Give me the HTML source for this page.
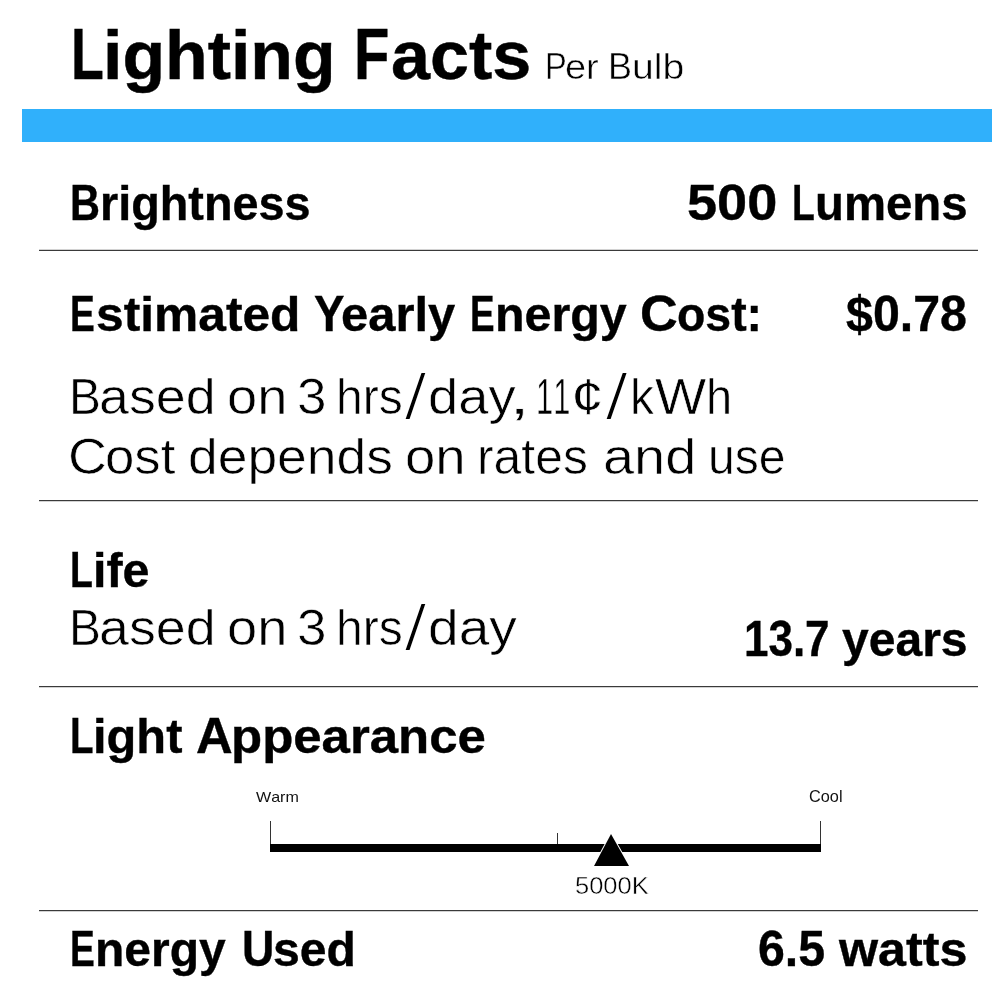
<!DOCTYPE html>
<html lang="en">
<head>
<meta charset="utf-8">
<title>Lighting Facts Per Bulb</title>
<style>
html,body{margin:0;padding:0;background:#fff;}
body{width:1000px;height:1000px;overflow:hidden;position:relative;font-family:"Liberation Sans",sans-serif;color:#000;}
#label{position:absolute;left:0;top:0;width:1000px;height:1000px;overflow:hidden;}
.w{position:absolute;white-space:nowrap;font-kerning:none;line-height:1;transform-origin:0 0;display:block;}
.t{font-weight:bold;color:#000;-webkit-text-stroke:0.5px #000;}
.b{font-weight:bold;color:#000;-webkit-text-stroke:0.4px #000;}
.pb{font-weight:normal;color:#000;-webkit-text-stroke:0.5px #fff;}
.l{font-weight:normal;color:#000;-webkit-text-stroke:0.6px #fff;}
.s{font-weight:normal;color:#111;}
.k{font-weight:normal;color:#000;-webkit-text-stroke:0.4px #fff;}
.lc{display:inline-block;transform-origin:0 0.905em;}
.t .lc,.b .lc{transform:scaleY(0.948);}
.l .lc,.pb .lc{transform:scaleY(0.975);}
.bar{position:absolute;left:22px;top:109px;width:970px;height:33px;background:#30b0fb;}
.hr{position:absolute;left:39px;width:939px;height:1px;background:#3a3a3a;box-shadow:0 1px 0 #d2d2d2;}
.hr.up{box-shadow:0 -1px 0 #d2d2d2;}
.track{position:absolute;left:270px;top:844px;width:551px;height:8px;background:#000;}
.tick{position:absolute;width:1px;background:#333;}
.marker{position:absolute;left:590px;top:830px;width:44px;height:40px;}
</style>
</head>
<body>
<div id="label">
<div class="title">
  <span class="w t" style="left:70.88px;top:14px;font-size:71.37px;line-height:80px;transform:scaleX(0.7532)">L</span><span class="w t" style="left:102.82px;top:14px;font-size:71.37px;line-height:80px;transform:scaleX(0.9783)"><span class="lc">ighting</span></span>
  <span class="w t" style="left:353.95px;top:14px;font-size:71.37px;line-height:80px;transform:scaleX(0.8104)">F</span><span class="w t" style="left:390.98px;top:14px;font-size:71.37px;line-height:80px;transform:scaleX(0.9817)"><span class="lc">acts</span></span>
  <span class="w pb" style="left:544.58px;top:46px;font-size:36.05px;line-height:41px;transform:scaleX(0.9054)">P</span><span class="w pb" style="left:564.84px;top:46px;font-size:36.05px;line-height:41px;transform:scaleX(1.0521)"><span class="lc">er</span></span>
  <span class="w pb" style="left:608.05px;top:46px;font-size:36.05px;line-height:41px;transform:scaleX(0.9980)">B</span><span class="w pb" style="left:631.75px;top:46px;font-size:36.05px;line-height:41px;transform:scaleX(1.0869)"><span class="lc">ulb</span></span>
</div>
<div class="bar"></div>
<div class="row brightness">
  <span class="w b" style="left:69.98px;top:175px;font-size:50.15px;line-height:56px;transform:scaleX(0.8280)">B</span><span class="w b" style="left:100.19px;top:175px;font-size:50.15px;line-height:56px;transform:scaleX(0.9331)"><span class="lc">rightness</span></span>
  <span class="w b" style="left:687.34px;top:175px;font-size:50.15px;line-height:56px;transform:scaleX(1.0788)">500</span>
  <span class="w b" style="left:791.72px;top:175px;font-size:50.15px;line-height:56px;transform:scaleX(0.7445)">L</span><span class="w b" style="left:814.86px;top:175px;font-size:50.15px;line-height:56px;transform:scaleX(0.9435)"><span class="lc">umens</span></span>
</div>
<div class="hr up" style="top:250px"></div>
<div class="row cost">
  <span class="w b" style="left:70.22px;top:286px;font-size:50.15px;line-height:56px;transform:scaleX(0.7415)">E</span><span class="w b" style="left:96.47px;top:286px;font-size:50.15px;line-height:56px;transform:scaleX(0.9916)"><span class="lc">stimated</span></span>
  <span class="w b" style="left:314.38px;top:286px;font-size:50.15px;line-height:56px;transform:scaleX(0.9102)">Y</span><span class="w b" style="left:341.02px;top:286px;font-size:50.15px;line-height:56px;transform:scaleX(0.9750)"><span class="lc">early</span></span>
  <span class="w b" style="left:469.94px;top:286px;font-size:50.15px;line-height:56px;transform:scaleX(0.7347)">E</span><span class="w b" style="left:494.86px;top:286px;font-size:50.15px;line-height:56px;transform:scaleX(0.9651)"><span class="lc">nergy</span></span>
  <span class="w b" style="left:639.62px;top:286px;font-size:50.15px;line-height:56px;transform:scaleX(1.0410)">C</span><span class="w b" style="left:676.76px;top:286px;font-size:50.15px;line-height:56px;transform:scaleX(0.9254)"><span class="lc">ost</span>:</span>
  <span class="w b" style="left:845.53px;top:286px;font-size:50.15px;line-height:56px;transform:scaleX(0.9643)">$0.78</span>
</div>
<div class="row note">
  <span class="w l" style="left:68.64px;top:368px;font-size:50.58px;line-height:57px;transform:scaleX(0.9460)">B</span><span class="w l" style="left:99.18px;top:368px;font-size:50.58px;line-height:57px;transform:scaleX(1.0638)"><span class="lc">ased</span></span>
  <span class="w l" style="left:227.03px;top:368px;font-size:50.58px;line-height:57px;transform:scaleX(1.0736)"><span class="lc">on</span></span>
  <span class="w l" style="left:297.24px;top:368px;font-size:50.58px;line-height:57px;transform:scaleX(1.0471)">3</span>
  <span class="w l" style="left:336.30px;top:368px;font-size:50.58px;line-height:57px;transform:scaleX(0.9495)"><span class="lc">hrs</span></span><span class="w l" style="left:403.78px;top:373px;font-size:50.58px;line-height:57px;transform:scale(1.6296,1.2870);transform-origin:0 46px;-webkit-text-stroke-width:1.5px">/</span><span class="w l" style="left:428.16px;top:368px;font-size:50.58px;line-height:57px;transform:scaleX(1.0737)"><span class="lc">day</span></span><span class="w l" style="left:509.48px;top:368px;font-size:50.58px;line-height:57px;transform:scaleX(1.5000)">,</span>
  <span class="w l" style="left:535.78px;top:368px;font-size:50.58px;line-height:57px;transform:scaleX(0.6095)">11</span><span class="w l" style="left:571.21px;top:368px;font-size:50.58px;line-height:57px;transform:scaleX(1.1701)">¢</span><span class="w l" style="left:604.76px;top:373px;font-size:50.58px;line-height:57px;transform:scale(1.6519,1.2870);transform-origin:0 46px;-webkit-text-stroke-width:1.5px">/</span><span class="w l" style="left:629.93px;top:368px;font-size:50.58px;line-height:57px;transform:scaleX(0.9487)"><span class="lc">k</span></span><span class="w l" style="left:655.07px;top:368px;font-size:50.58px;line-height:57px;transform:scaleX(1.0719)">W</span><span class="w l" style="left:706.18px;top:368px;font-size:50.58px;line-height:57px;transform:scaleX(0.9285)"><span class="lc">h</span></span>
</div>
<div class="row note">
  <span class="w l" style="left:68.18px;top:428px;font-size:50.58px;line-height:57px;transform:scaleX(1.0660)">C</span><span class="w l" style="left:105.49px;top:428px;font-size:50.58px;line-height:57px;transform:scaleX(1.0425)"><span class="lc">ost</span></span>
  <span class="w l" style="left:188.07px;top:428px;font-size:50.58px;line-height:57px;transform:scaleX(1.0556)"><span class="lc">depends</span></span>
  <span class="w l" style="left:405.02px;top:428px;font-size:50.58px;line-height:57px;transform:scaleX(1.0786)"><span class="lc">on</span></span>
  <span class="w l" style="left:477.14px;top:428px;font-size:50.58px;line-height:57px;transform:scaleX(0.9856)"><span class="lc">rates</span></span>
  <span class="w l" style="left:602.98px;top:428px;font-size:50.58px;line-height:57px;transform:scaleX(1.1064)"><span class="lc">and</span></span>
  <span class="w l" style="left:708.11px;top:428px;font-size:50.58px;line-height:57px;transform:scaleX(0.9503)"><span class="lc">use</span></span>
</div>
<div class="hr" style="top:500px"></div>
<div class="row life">
  <span class="w b" style="left:70.35px;top:542px;font-size:50.15px;line-height:56px;transform:scaleX(0.7460)">L</span><span class="w b" style="left:93.30px;top:542px;font-size:50.15px;line-height:56px;transform:scaleX(0.9661)"><span class="lc">ife</span></span>
</div>
<div class="row note">
  <span class="w l" style="left:68.64px;top:599px;font-size:50.58px;line-height:57px;transform:scaleX(0.9460)">B</span><span class="w l" style="left:99.18px;top:599px;font-size:50.58px;line-height:57px;transform:scaleX(1.0638)"><span class="lc">ased</span></span>
  <span class="w l" style="left:227.03px;top:599px;font-size:50.58px;line-height:57px;transform:scaleX(1.0736)"><span class="lc">on</span></span>
  <span class="w l" style="left:297.24px;top:599px;font-size:50.58px;line-height:57px;transform:scaleX(1.0471)">3</span>
  <span class="w l" style="left:336.30px;top:599px;font-size:50.58px;line-height:57px;transform:scaleX(0.9495)"><span class="lc">hrs</span></span><span class="w l" style="left:403.78px;top:604px;font-size:50.58px;line-height:57px;transform:scale(1.6296,1.2870);transform-origin:0 46px;-webkit-text-stroke-width:1.5px">/</span><span class="w l" style="left:428.24px;top:599px;font-size:50.58px;line-height:57px;transform:scaleX(1.0893)"><span class="lc">day</span></span>
</div>
<div class="row lifeval">
  <span class="w b" style="left:743.75px;top:611px;font-size:50.15px;line-height:56px;transform:scaleX(0.8765)">13.7</span>
  <span class="w b" style="left:841.63px;top:611px;font-size:50.15px;line-height:56px;transform:scaleX(0.9578)"><span class="lc">years</span></span>
</div>
<div class="hr" style="top:686px"></div>
<div class="row appearance">
  <span class="w b" style="left:70.39px;top:708px;font-size:50.15px;line-height:56px;transform:scaleX(0.7690)">L</span><span class="w b" style="left:93.38px;top:708px;font-size:50.15px;line-height:56px;transform:scaleX(0.9727)"><span class="lc">ight</span></span>
  <span class="w b" style="left:196.33px;top:708px;font-size:50.15px;line-height:56px;transform:scaleX(1.0128)">A</span><span class="w b" style="left:231.37px;top:708px;font-size:50.15px;line-height:56px;transform:scaleX(1.0163)"><span class="lc">ppearance</span></span>
</div>
<div class="scale">
 <span class="w s" style="left:255.90px;top:788px;font-size:15.41px;line-height:17px;transform:scaleX(1.0437)">Warm</span>
 <span class="w s" style="left:809.40px;top:788px;font-size:15.7px;line-height:17px;transform:scaleX(1.0384)">Cool</span>
 <div class="tick" style="left:270px;top:821px;height:24px"></div>
 <div class="tick" style="left:557px;top:833px;height:12px"></div>
 <div class="tick" style="left:820px;top:821px;height:24px"></div>
 <div class="track"></div>
 <svg class="marker" viewBox="0 0 44 40" width="44" height="40"><polygon points="21,4 39,36 4,36" fill="#000" stroke="#fff" stroke-width="2" stroke-linejoin="miter" paint-order="stroke"/></svg>
 <span class="w k" style="left:575.08px;top:873px;font-size:23.26px;line-height:26px;transform:scaleX(1.0962)">5000K</span>
</div>
<div class="hr" style="top:910px"></div>
<div class="row energy">
  <span class="w b" style="left:70.22px;top:921px;font-size:50.15px;line-height:56px;transform:scaleX(0.7415)">E</span><span class="w b" style="left:95.32px;top:921px;font-size:50.15px;line-height:56px;transform:scaleX(0.9574)"><span class="lc">nergy</span></span>
  <span class="w b" style="left:241.74px;top:921px;font-size:50.15px;line-height:56px;transform:scaleX(0.8917)">U</span><span class="w b" style="left:272.93px;top:921px;font-size:50.15px;line-height:56px;transform:scaleX(0.9590)"><span class="lc">sed</span></span>
  <span class="w b" style="left:758.33px;top:921px;font-size:50.15px;line-height:56px;transform:scaleX(0.9630)">6.5</span>
  <span class="w b" style="left:838.68px;top:921px;font-size:50.15px;line-height:56px;transform:scaleX(1.0023)"><span class="lc">watts</span></span>
</div>
</div>
</body>
</html>
